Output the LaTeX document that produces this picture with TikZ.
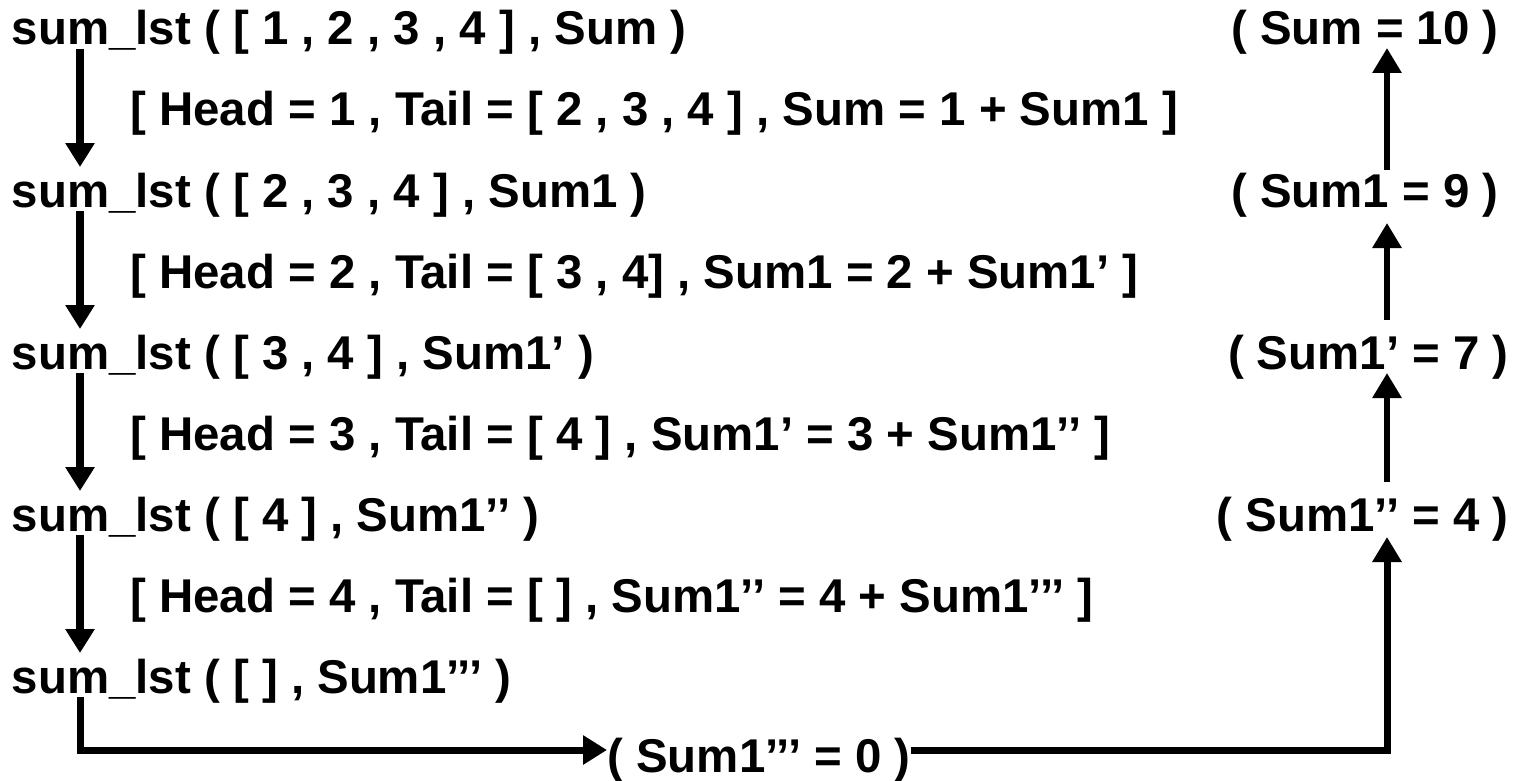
\documentclass[tikz,border=0pt]{standalone}
\usepackage{fontspec}
\setmainfont{Liberation Sans}
\usetikzlibrary{arrows.meta,calc}
\tikzset{
  goal/.style={anchor=base west,inner sep=0pt,font=\bfseries\fontsize{23.7}{28}\selectfont},
  result/.style={goal,anchor=base east},
  down/.style={line width=4pt,-{Triangle[width=14pt,length=12pt]}},
  up/.style={line width=3pt,-{Triangle[width=14pt,length=12.5pt]}},
}

\begin{document}
\begin{tikzpicture}[x=0.5pt,y=-0.5pt]
  \useasboundingbox (0,0) rectangle (1514,781);
  \coordinate (lcol) at (80,0);
  \coordinate (rcol) at (1387,0);
  % calls and their unifications
  \node[goal] (s1) at (11.5,45) {sum\_lst ( [ 1 , 2 , 3 , 4 ] , Sum )};
  \node[goal] (h1) at (130,126) {[ Head = 1 , Tail = [ 2 , 3 , 4 ] , Sum = 1 + Sum1 ]};
  \node[goal] (s2) at (11.5,207) {sum\_lst ( [ 2 , 3 , 4 ] , Sum1 )};
  \node[goal] (h2) at (130,288) {[ Head = 2 , Tail = [ 3 , 4] , Sum1 = 2 + Sum1’ ]};
  \node[goal] (s3) at (11.5,369) {sum\_lst ( [ 3 , 4 ] , Sum1’ )};
  \node[goal] (h3) at (130,450) {[ Head = 3 , Tail = [ 4 ] , Sum1’ = 3 + Sum1’’ ]};
  \node[goal] (s4) at (11.5,531) {sum\_lst ( [ 4 ] , Sum1’’ )};
  \node[goal] (h4) at (130,612) {[ Head = 4 , Tail = [ ] , Sum1’’ = 4 + Sum1’’’ ]};
  \node[goal] (s5) at (11.5,693) {sum\_lst ( [ ] , Sum1’’’ )};
  % results
  \node[result] (r1) at (1499,45) {( Sum = 10 )};
  \node[result] (r2) at (1499,207) {( Sum1 = 9 )};
  \node[result] (r3) at (1509,369) {( Sum1’ = 7 )};
  \node[result] (r4) at (1509,531) {( Sum1’’ = 4 )};
  \node[goal] (r5) at (607,772) {( Sum1’’’ = 0 )};
  % going down
  \draw[down] ($(s1.base -| lcol)+(0,4)$) -- ($(s2.base -| lcol)+(0,-40)$);
  \draw[down] ($(s2.base -| lcol)+(0,4)$) -- ($(s3.base -| lcol)+(0,-40)$);
  \draw[down] ($(s3.base -| lcol)+(0,4)$) -- ($(s4.base -| lcol)+(0,-40)$);
  \draw[down] ($(s4.base -| lcol)+(0,4)$) -- ($(s5.base -| lcol)+(0,-40)$);
  \draw[down,line width=3.5pt] ($(s5.base -| lcol)+(0,4)$) |- ($(r5.base west)+(0,-22)$);
  % coming back up
  \draw[up,line width=3.5pt] ($(r5.base east)+(0,-22)$) -| ($(r4.base -| rcol)+(0,6)$);
  \draw[up] ($(r4.base -| rcol)+(0,-49)$) -- ($(r3.base -| rcol)+(0,4)$);
  \draw[up] ($(r3.base -| rcol)+(0,-49)$) -- ($(r2.base -| rcol)+(0,16)$);
  \draw[up] ($(r2.base -| rcol)+(0,-37)$) -- ($(r1.base -| rcol)+(0,3)$);
\end{tikzpicture}
\end{document}
